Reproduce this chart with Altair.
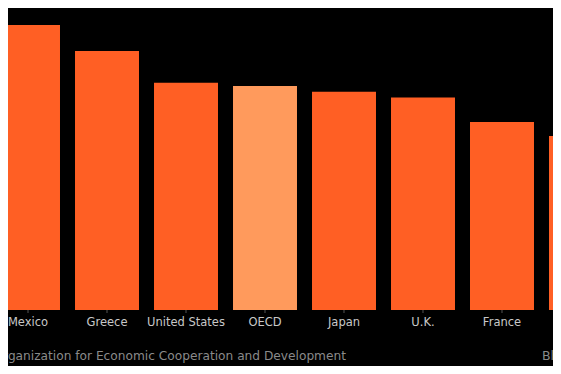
import altair as alt
import pandas as pd

countries = ["Mexico", "Greece", "United States", "OECD", "Japan", "U.K.", "France", "Germany"]
hours = [2246, 2042, 1790, 1766, 1719, 1674, 1482, 1371]
group = ["Country", "Country", "Country", "Average", "Country", "Country", "Country", "Country"]

source_note = "Source: Organization for Economic Cooperation and Development"
brand = "Bloomberg"

df = pd.DataFrame({"country": countries, "hours": hours, "group": group})
df["idx"] = range(len(df))
df["left"] = df["idx"] - 0.405
df["right"] = df["idx"] + 0.405

W, H = 545, 302
xscale = alt.Scale(domain=[-0.2532, 6.6456], nice=False, zero=False)
yscale = alt.Scale(domain=[0, 2380], nice=False)

base = alt.Chart(df)

bars = base.mark_bar(clip=True).encode(
    x=alt.X("left:Q", scale=xscale, axis=None),
    x2="right:Q",
    y=alt.Y("hours:Q", scale=yscale, axis=None),
    y2=alt.datum(0),
    color=alt.Color("group:N", scale=alt.Scale(domain=["Country", "Average"],
                                              range=["#ff5f24", "#ff9a5c"]), legend=None),
)

ticks = base.mark_rule(color="#555555", strokeWidth=1).encode(
    x=alt.X("idx:Q", scale=xscale, axis=None),
    y=alt.value(H),
    y2=alt.value(H + 3),
)

labels = base.mark_text(
    font="DejaVu Sans", fontSize=11.5, color="#c8c8c8", align="center", baseline="alphabetic"
).encode(
    x=alt.X("idx:Q", scale=xscale, axis=None),
    y=alt.value(H + 16),
    text="country:N",
)

src = alt.Chart(pd.DataFrame({"t": [source_note]})).mark_text(
    font="DejaVu Sans", fontSize=12.2, color="#8a8a8a", align="right", baseline="alphabetic"
).encode(x=alt.value(338), y=alt.value(H + 50), text="t:N")

brand_txt = alt.Chart(pd.DataFrame({"t": [brand]})).mark_text(
    font="DejaVu Sans", fontSize=12.5, color="#8a8a8a", align="left", baseline="alphabetic"
).encode(x=alt.value(534), y=alt.value(H + 50), text="t:N")

chart = alt.layer(bars, ticks, labels, src, brand_txt).properties(
    width=W, height=H,
    autosize=alt.AutoSizeParams(type="none"),
    padding={"left": 0, "top": 0, "right": 0, "bottom": 56},
    background="#000000",
).configure_view(stroke=None)

chart.save("out.html", embed_options={"renderer": "svg", "actions": False})
